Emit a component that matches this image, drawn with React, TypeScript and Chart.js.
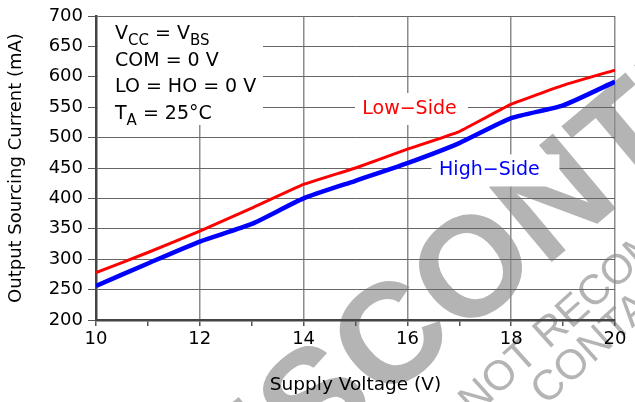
import React, { useEffect, useRef } from 'react';
import { Chart, registerables } from 'chart.js';

Chart.register(...registerables);

// ---- data ----
const supplyVoltage = [10, 11, 12, 13, 14, 15, 16, 17, 18, 19, 20];
const lowSideCurrent = [278, 311, 346, 384, 423, 450, 481, 510, 555, 586, 611];
const highSideCurrent = [256, 293, 329, 358, 400, 429, 458, 491, 532, 553, 592];
const xTickLabels = ['10', '12', '14', '16', '18', '20'];
const yMin = 200;
const yMax = 700;
const yStep = 50;
const xTitle = 'Supply Voltage (V)';
const yTitle = 'Output Sourcing Current (mA)';
const lowSideLabel = 'Low\u2212Side';
const highSideLabel = 'High\u2212Side';
// condition lines: [text, isSubscript][]
const conditionLines: [string, boolean][][] = [
  [['V', false], ['CC', true], [' = V', false], ['BS', true]],
  [['COM = 0 V', false]],
  [['LO = HO = 0 V', false]],
  [['T', false], ['A', true], [' = 25\u00B0C', false]],
];
const watermarkMain = 'DISCONTINUED';
const watermarkLine2 = 'NOT RECOMMENDED FOR NEW DESIGN';
const watermarkLine3 = 'CONTACT YOUR REPRESENTATIVE';

const FONT = '"DejaVu Sans", "Liberation Sans", sans-serif';

const watermarkPlugin = {
  id: 'watermark',
  beforeDraw(chart: any) {
    const ctx = chart.ctx as CanvasRenderingContext2D;
    ctx.save();
    ctx.fillStyle = '#ffffff';
    ctx.fillRect(0, 0, chart.width, chart.height);
    ctx.fillStyle = '#b4b4b4';
    ctx.textAlign = 'left';
    ctx.textBaseline = 'alphabetic';
    const draw = (text: string, x: number, y: number, font: string, deg: number) => {
      ctx.save();
      ctx.translate(x, y);
      ctx.rotate((-deg * Math.PI) / 180);
      ctx.font = font;
      ctx.fillText(text, 0, 0);
      ctx.restore();
    };
    draw(watermarkMain, 200, 557, 'bold 142px "Liberation Sans", Arial, sans-serif', 40);
    draw(watermarkLine2, 474, 417, '42px "Liberation Sans", Arial, sans-serif', 42);
    draw(watermarkLine3, 546, 406, '42px "Liberation Sans", Arial, sans-serif', 42);
    ctx.restore();
  },
};

const annotationPlugin = {
  id: 'annotations',
  beforeDatasetsDraw(chart: any) {
    const ctx = chart.ctx as CanvasRenderingContext2D;
    const ca = chart.chartArea;
    const xs = chart.scales.x;
    const ys = chart.scales.y;
    ctx.save();
    // conditions box
    ctx.fillStyle = '#ffffff';
    ctx.fillRect(ca.left + 2, ca.top + 1, 165, 108);
    ctx.fillStyle = '#000000';
    ctx.textAlign = 'left';
    ctx.textBaseline = 'alphabetic';
    const lineGap = 26.7;
    conditionLines.forEach((segs, i) => {
      let x = ca.left + 19;
      const base = ca.top + 23 + i * lineGap;
      segs.forEach(([t, sub]) => {
        ctx.font = sub ? `15px ${FONT}` : `19px ${FONT}`;
        ctx.fillText(t, x, sub ? base + 5.5 : base);
        x += ctx.measureText(t).width;
      });
    });

    // series labels
    const label = (text: string, xv: number, yv: number, color: string, bw: number, boff: number) => {
      const cx = xs.getPixelForValue(xv);
      const cy = ys.getPixelForValue(yv);
      ctx.fillStyle = '#ffffff';
      ctx.fillRect(cx - bw / 2 + boff, cy - 16, bw, 32);
      ctx.fillStyle = color;
      ctx.font = `19px ${FONT}`;
      ctx.textAlign = 'center';
      ctx.textBaseline = 'middle';
      ctx.fillText(text, cx, cy);
    };
    label(lowSideLabel, 16.04, 547, '#ff0000', 113, 2);
    label(highSideLabel, 17.58, 446, '#0000ff', 128, 6);
    ctx.restore();
  },
};

export default function App() {
  const ref = useRef<HTMLCanvasElement>(null);
  useEffect(() => {
    document.body.style.margin = '0';
    const chart = new Chart(ref.current as HTMLCanvasElement, {
      type: 'line',
      data: {
        datasets: [
          {
            label: lowSideLabel,
            data: supplyVoltage.map((v, i) => ({ x: v, y: lowSideCurrent[i] })),
            borderColor: '#ff0000',
            borderWidth: 3,
            pointRadius: 0,
            tension: 0.1,
            fill: false,
          },
          {
            label: highSideLabel,
            data: supplyVoltage.map((v, i) => ({ x: v, y: highSideCurrent[i] })),
            borderColor: '#0000ff',
            borderWidth: 4.5,
            pointRadius: 0,
            tension: 0.2,
            fill: false,
          },
        ],
      },
      options: {
        responsive: false,
        animation: false,
        layout: { padding: { left: 0, right: 20, top: 16, bottom: 0 } },
        plugins: {
          legend: { display: false },
          tooltip: { enabled: false },
        },
        scales: {
          x: {
            type: 'linear',
            min: supplyVoltage[0],
            max: supplyVoltage[supplyVoltage.length - 1],
            afterFit: (s: any) => {
              s.height = 82;
            },
            ticks: {
              stepSize: 1,
              autoSkip: false,
              maxRotation: 0,
              padding: 3,
              color: '#000',
              font: { family: FONT, size: 18 },
              callback: (v: any) => (xTickLabels.includes(String(v)) ? String(v) : ''),
            },
            grid: {
              color: (c: any) =>
                c.tick && xTickLabels.includes(String(c.tick.value)) ? '#8c8c8c' : 'rgba(0,0,0,0)',
              lineWidth: 1.5,
              tickColor: '#555',
              tickLength: 6,
            },
            border: { color: '#444', width: 2.5 },
            title: {
              display: true,
              text: xTitle,
              color: '#000',
              font: { family: FONT, size: 18.5 },
              padding: { top: 0, bottom: 6 },
            },
          },
          y: {
            type: 'linear',
            min: yMin,
            max: yMax,
            afterFit: (s: any) => {
              s.width = 96;
            },
            ticks: {
              stepSize: yStep,
              padding: 5,
              color: '#000',
              font: { family: FONT, size: 18 },
            },
            grid: {
              color: '#666',
              lineWidth: 1,
              tickColor: '#555',
              tickLength: 8,
            },
            border: { color: '#444', width: 2.5 },
            title: {
              display: true,
              text: yTitle,
              color: '#000',
              font: { family: FONT, size: 18 },
              padding: { top: 6, bottom: 0 },
            },
          },
        },
      },
      plugins: [watermarkPlugin, annotationPlugin],
    } as any);
    return () => chart.destroy();
  }, []);
  return (
    <div style={{ width: 635, height: 402 }}>
      <canvas ref={ref} width={635} height={402} style={{ display: 'block' }} />
    </div>
  );
}
